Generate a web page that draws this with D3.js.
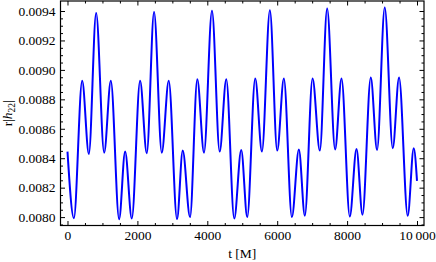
<!DOCTYPE html>
<html>
<head>
<meta charset="utf-8">
<script src="https://cdn.jsdelivr.net/npm/d3@7"></script>
<style>
  body { margin: 0; background: #fff; }
  svg { display: block; }
  .tick text { font-family: "Liberation Serif", "Times New Roman", serif; font-size: 13.5px; fill: #000; }
</style>
</head>
<body>
<svg id="chart" width="436" height="262"></svg>
<script>
// extrema (t in M, value of r|h22|)
const tValues = [0, 183, 420, 611, 820, 1049, 1240, 1477,
  1649, 1840, 2077, 2268, 2477, 2697, 2897, 3134,
  3297, 3506, 3714, 3906, 4134, 4354, 4543, 4771,
  4971, 5143, 5371, 5563, 5791, 6000, 6191, 6420,
  6620, 6791, 7011, 7220, 7429, 7657, 7840, 8077,
  8269, 8440, 8677, 8857, 9077, 9306, 9486, 9734,
  9906, 10000];
const hValues = [0.008445, 0.007993, 0.008926, 0.008429, 0.009387, 0.008438, 0.008926, 0.007986,
  0.008445, 0.007990, 0.008926, 0.008434, 0.009394, 0.008438, 0.008926, 0.007986,
  0.008452, 0.008000, 0.008936, 0.008438, 0.009401, 0.008445, 0.008936, 0.007990,
  0.008456, 0.008000, 0.008942, 0.008445, 0.009405, 0.008452, 0.008942, 0.008000,
  0.008460, 0.008009, 0.008942, 0.008452, 0.009417, 0.008460, 0.008942, 0.008004,
  0.008463, 0.008016, 0.008949, 0.008456, 0.009424, 0.008468, 0.008949, 0.008009,
  0.008468, 0.008246];
const xTicks = [0, 2000, 4000, 6000, 8000, 10000];
const yTicks = [0.0080, 0.0082, 0.0084, 0.0086, 0.0088, 0.0090, 0.0092, 0.0094];
const xLabel = "t [M]";

const mLeft = 60.5, mRight = 424, mTop = 1, mBottom = 225.5;
const svg = d3.select("#chart");

const xScale = d3.scaleLinear().domain([-200, 10200]).range([mLeft, mRight]);
const yScale = d3.scaleLinear().domain([0.007943, 0.009468]).range([mBottom, mTop]);

const xMinor = d3.range(0, 10001, 500).filter(d => d % 2000 !== 0);
const yMinor = d3.range(0, 30).map(i => +(0.00795 + i * 0.00005).toFixed(5))
  .filter(d => d <= 0.00946 && yTicks.every(t => Math.abs(t - d) > 1e-7));

const fmtY = d3.format(".4f");
const fmtX = d => d === 10000 ? "10\u2009000" : String(d);

// curve
const line = d3.line()
  .x(d => xScale(d[0]))
  .y(d => yScale(d[1]))
  .curve(d3.curveMonotoneX);

svg.append("path")
  .datum(tValues.map((t, i) => [t, hValues[i]]))
  .attr("d", line)
  .attr("fill", "none")
  .attr("stroke", "#0000ff")
  .attr("stroke-width", 2)
  .attr("stroke-linejoin", "round");

// axes, ticks pointing inward
function styleAxis(g) {
  g.select(".domain").remove();
  g.selectAll(".tick line").attr("stroke", "#000").attr("stroke-width", 1);
}

svg.append("g").attr("transform", `translate(0,${mBottom})`)
  .call(d3.axisBottom(xScale).tickValues(xTicks).tickFormat(fmtX).tickSize(-4.5).tickPadding(5))
  .call(styleAxis);
svg.append("g").attr("transform", `translate(0,${mBottom})`)
  .call(d3.axisBottom(xScale).tickValues(xMinor).tickFormat("").tickSize(-2.5))
  .call(styleAxis);
svg.append("g").attr("transform", `translate(0,${mTop})`)
  .call(d3.axisTop(xScale).tickValues(xTicks).tickFormat("").tickSize(-4.5))
  .call(styleAxis);
svg.append("g").attr("transform", `translate(0,${mTop})`)
  .call(d3.axisTop(xScale).tickValues(xMinor).tickFormat("").tickSize(-2.5))
  .call(styleAxis);

svg.append("g").attr("transform", `translate(${mLeft},0)`)
  .call(d3.axisLeft(yScale).tickValues(yTicks).tickFormat(fmtY).tickSize(-4.5).tickPadding(5))
  .call(styleAxis);
svg.append("g").attr("transform", `translate(${mLeft},0)`)
  .call(d3.axisLeft(yScale).tickValues(yMinor).tickFormat("").tickSize(-2.5))
  .call(styleAxis);
svg.append("g").attr("transform", `translate(${mRight},0)`)
  .call(d3.axisRight(yScale).tickValues(yTicks).tickFormat("").tickSize(-4.5))
  .call(styleAxis);
svg.append("g").attr("transform", `translate(${mRight},0)`)
  .call(d3.axisRight(yScale).tickValues(yMinor).tickFormat("").tickSize(-2.5))
  .call(styleAxis);

// frame
svg.append("rect")
  .attr("x", mLeft).attr("y", mTop)
  .attr("width", mRight - mLeft).attr("height", mBottom - mTop)
  .attr("fill", "none").attr("stroke", "#000").attr("stroke-width", 1.2);

// axis labels
svg.append("text")
  .attr("x", (mLeft + mRight) / 2).attr("y", 258)
  .attr("text-anchor", "middle")
  .style("font-family", "Liberation Serif, serif").style("font-size", "13.5px")
  .text(xLabel);

const yl = svg.append("text")
  .attr("transform", `translate(11.5,${(mTop + mBottom) / 2}) rotate(-90)`)
  .attr("text-anchor", "middle")
  .style("font-family", "Liberation Serif, serif").style("font-size", "13.5px");
yl.append("tspan").text("r|");
yl.append("tspan").style("font-style", "italic").text("h");
yl.append("tspan").attr("dy", 3).style("font-size", "9.5px").text("22");
yl.append("tspan").attr("dy", -3).text("|");
</script>
</body>
</html>
